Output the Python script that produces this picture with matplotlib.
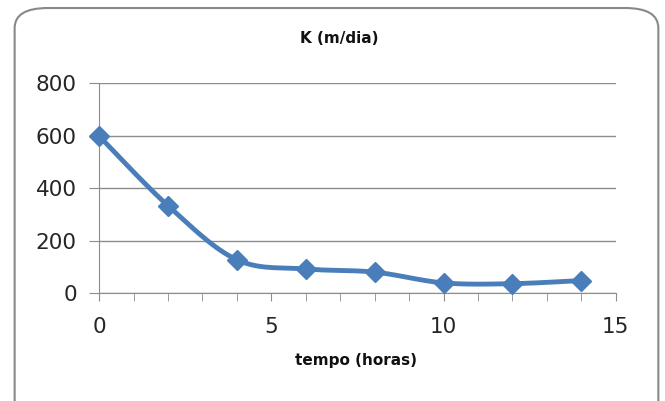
import numpy as np
import matplotlib.pyplot as plt
from matplotlib.patches import FancyBboxPatch

plt.rcParams['font.family'] = ['DejaVu Sans']

# data
tempo = [0, 2, 4, 6, 8, 10, 12, 14]
k_vals = [598, 333, 127, 92, 80, 39, 36, 48]
y_ticks = [0, 200, 400, 600, 800]
x_ticks = [0, 5, 10, 15]


def smooth(xs, ys, n=30):
    # Excel-like smoothed line (Catmull-Rom as cubic Bezier)
    xs = np.asarray(xs, float)
    ys = np.asarray(ys, float)
    px = np.concatenate([[xs[0]], xs, [xs[-1]]])
    py = np.concatenate([[ys[0]], ys, [ys[-1]]])
    outx, outy = [], []
    t = np.linspace(0, 1, n)
    for i in range(1, len(px) - 2):
        p0 = np.array([px[i], py[i]])
        p3 = np.array([px[i + 1], py[i + 1]])
        p1 = p0 + (np.array([px[i + 1], py[i + 1]]) - np.array([px[i - 1], py[i - 1]])) / 6
        p2 = p3 - (np.array([px[i + 2], py[i + 2]]) - np.array([px[i], py[i]])) / 6
        b = ((1 - t) ** 3)[:, None] * p0 + (3 * (1 - t) ** 2 * t)[:, None] * p1 \
            + (3 * (1 - t) * t ** 2)[:, None] * p2 + (t ** 3)[:, None] * p3
        outx.extend(b[:, 0])
        outy.extend(b[:, 1])
    return outx, outy


fig = plt.figure(figsize=(6.65, 4.01), dpi=100)
fig.patches.append(FancyBboxPatch((0.022, -0.05), 0.968, 1.03,
                                  boxstyle="round,pad=0,rounding_size=0.05",
                                  transform=fig.transFigure, facecolor='white',
                                  edgecolor='#888888', linewidth=1.5, zorder=-5))

ax = fig.add_axes([0.149, 0.269, 0.777, 0.524])
ax.set_facecolor('none')

sx, sy = smooth(tempo, k_vals)
ax.plot(sx, sy, color='#4A7EBB', linewidth=3.5, solid_capstyle='round', zorder=3)
ax.plot(tempo, k_vals, linestyle='none', marker='D', markersize=10,
        color='#4A7EBB', zorder=4, clip_on=False)

ax.set_xlim(0, 15)
ax.set_ylim(0, 800)
ax.set_xticks(x_ticks)
ax.set_xticks(range(0, 16), minor=True)
ax.set_yticks(y_ticks)

ax.grid(axis='y', color='#8c8c8c', linewidth=1)
ax.set_axisbelow(True)
for s in ['top', 'right']:
    ax.spines[s].set_visible(False)
ax.spines['left'].set_color('#8c8c8c')
ax.spines['bottom'].set_color('#8c8c8c')
ax.tick_params(axis='both', which='both', color='#8c8c8c', labelsize=15.5,
               labelcolor='#262626')
ax.tick_params(axis='x', which='major', length=6, pad=11)
ax.tick_params(axis='x', which='minor', length=6)
ax.tick_params(axis='y', length=7, pad=9)

fig.text(0.510, 0.903, 'K (m/dia)', ha='center', va='center',
         fontsize=11, fontweight='bold', color='#111111')
fig.text(0.536, 0.102, 'tempo (horas)', ha='center', va='center',
         fontsize=11, fontweight='bold', color='#111111')

plt.savefig('out.png', dpi=100)
